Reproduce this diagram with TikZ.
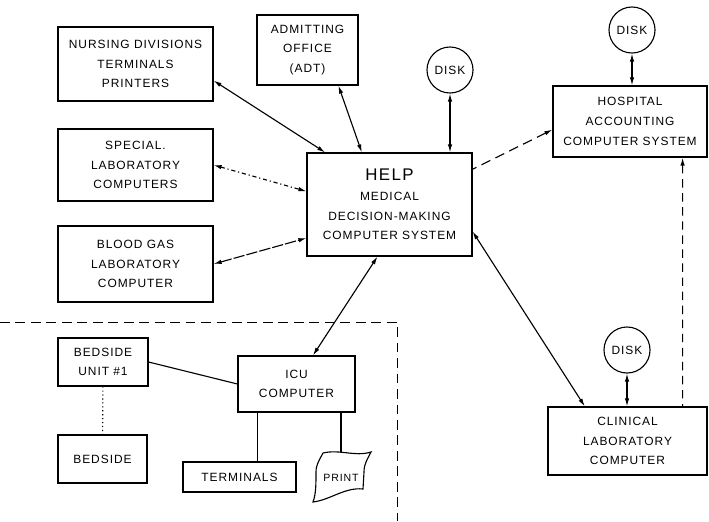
\documentclass[tikz,border=0pt]{standalone}
\usepackage{fontspec}
\setmainfont{Liberation Sans}[LetterSpace=8]
\usetikzlibrary{arrows.meta, positioning, calc}

\begin{document}
\begin{tikzpicture}[x=0.025cm, y=-0.025cm, line width=0.8pt,
        font=\fontsize{8.5}{14}\selectfont,
        unit/.style={rectangle, draw, align=center, inner sep=0pt},
        disk/.style={circle, draw, inner sep=0pt, minimum size=1.15cm},
        link/.style={{Latex[length=2mm,width=1.1mm]}-{Latex[length=2mm,width=1.1mm]}},
        onelink/.style={{Latex[length=2mm,width=1.1mm]}-}
    ]
        \useasboundingbox (0,0) rectangle (709,521);
        % left column
        \node[unit, minimum width=3.875cm, minimum height=1.85cm] (nurse) at (135.5,64)
            {NURSING DIVISIONS\\TERMINALS\\PRINTERS};
        \node[unit, minimum width=3.875cm, minimum height=1.8cm] (special) at (135.5,165)
            {SPECIAL.\\LABORATORY\\COMPUTERS};
        \node[unit, minimum width=3.875cm, minimum height=1.9cm] (blood) at (135.5,264)
            {BLOOD GAS\\LABORATORY\\COMPUTER};
        \node[unit, minimum width=2.525cm, minimum height=1.75cm] (adt) at (307.5,50)
            {ADMITTING\\OFFICE\\(ADT)};
        % central system
        \node[unit, minimum width=4.125cm, minimum height=2.575cm] (help) at (389.5,204.5)
            {{\fontsize{12}{14}\selectfont HELP}\\MEDICAL\\DECISION-MAKING\\COMPUTER SYSTEM};
        \node[disk] (disk1) at (450,70) {DISK};
        % right column
        \node[disk] (disk2) at (632,30) {DISK};
        \node[unit, minimum width=3.85cm, minimum height=1.775cm] (hosp) at (630,121.5)
            {HOSPITAL\\ACCOUNTING\\COMPUTER SYSTEM};
        \node[disk] (disk3) at (627,350) {DISK};
        \node[unit, minimum width=3.975cm, minimum height=1.7cm] (clin) at (627.5,441)
            {CLINICAL\\LABORATORY\\COMPUTER};
        % ICU
        \node[unit, minimum width=2.925cm, minimum height=1.4cm] (icu) at (296.5,384)
            {ICU\\COMPUTER};
        \node[unit, minimum width=2.25cm, minimum height=1.2cm] (bed1) at (103,362)
            {BEDSIDE\\UNIT \#1};
        \node[unit, minimum width=2.225cm, minimum height=1.2cm] (bed) at (102.5,459)
            {BEDSIDE};
        \node[unit, minimum width=2.825cm, minimum height=0.75cm] (term) at (239.5,477)
            {TERMINALS};
        \node[inner sep=0pt, minimum width=1.25cm, minimum height=1.2cm] (prt) at (341,478)
            {\fontsize{7.5}{14}\selectfont PRINT};
        \draw (323,453) .. controls (340,449) and (355,457) .. (371,452)
            .. controls (367,460) and (364,464) .. (364,472) -- (363,489)
            .. controls (345,487) and (330,500) .. (313,502)
            .. controls (316,494) and (316,484) .. (316,472)
            .. controls (316,464) and (320,459) .. (323,453);

        % links to HELP
        \draw[link] (nurse.-12) -- (help.141);
        \draw[link] (adt.-49) -- (help.118);
        \draw[link] (disk1) -- (disk1 |- help.north);
        \draw[link, dash dot] (special.east) -- (help.171);
        \draw[link, dash pattern=on 8pt off 1.5pt] (blood.east) -- (help.-158);
        \draw[onelink, dash pattern=on 7pt off 4pt] (hosp.-174) -- (help.23);
        \draw[link] (help.-103) -- (icu.60);
        \draw[link] (help.-18) -- (clin.141);
        % disks and right side
        \draw[link] (disk2) -- (disk2 |- hosp.north);
        \draw[link] (disk3) -- (disk3 |- clin.north);
        \draw[onelink, dash pattern=on 6pt off 4pt]
            ([xshift=-0.625cm]hosp.south east) -- ([xshift=-0.625cm]clin.north east);
        % ICU area
        \draw (bed1.east) -- (icu.west);
        \draw[dotted] (bed1) -- (bed);
        \draw ([xshift=0.45cm]term.north) -- ([xshift=0.45cm]term.north |- icu.south);
        \draw (icu.south -| prt.north) -- (prt.north |- 0,452);
        \draw[line width=0.6pt, dash pattern=on 7pt off 4pt] (0,322) -- (397,322) -- (397,521);
    \end{tikzpicture}
\end{document}
